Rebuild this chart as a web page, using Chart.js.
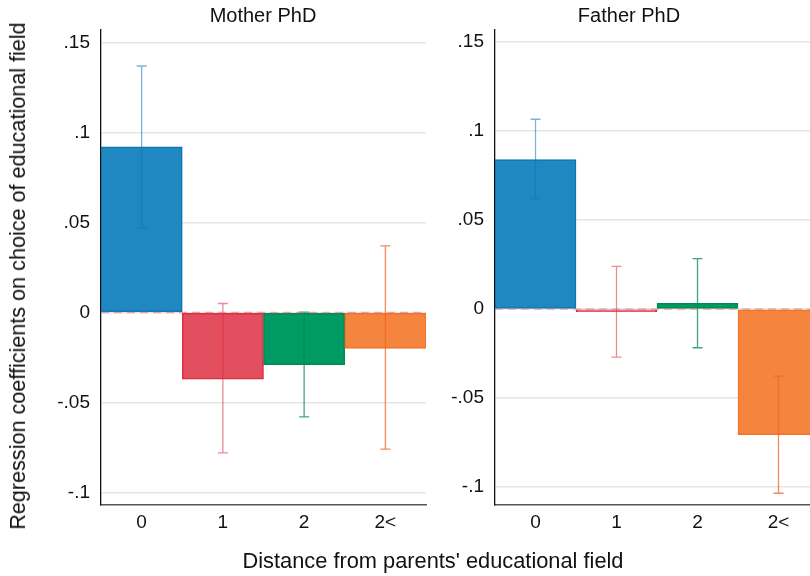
<!DOCTYPE html>
<html>
<head>
<meta charset="utf-8">
<script src="https://cdn.jsdelivr.net/npm/chart.js@4.4.0/dist/chart.umd.min.js"></script>
<style>
  html, body { margin:0; padding:0; width:810px; height:576px; overflow:hidden; background:#fff; }
  body { position:relative; font-family: "Liberation Sans", Arial, sans-serif; color:#111; }
  canvas { position:absolute; top:0; }
  .txt { position:absolute; white-space:nowrap; font-family:"Liberation Sans", Arial, sans-serif; color:#111; }
</style>
</head>
<body>
<canvas id="c1" width="440" height="576" style="left:0px"></canvas>
<canvas id="c2" width="400" height="576" style="left:440px"></canvas>
<div class="txt" id="t1" style="font-size:20px; left:263px; top:4px; transform:translateX(-50%);">Mother PhD</div>
<div class="txt" id="t2" style="font-size:20px; left:629px; top:4px; transform:translateX(-50%);">Father PhD</div>
<div class="txt" id="xt" style="font-size:21.8px; left:433px; top:548px; transform:translateX(-50%);">Distance from parents' educational field</div>
<div class="txt" id="yt" style="font-size:21.6px; left:18px; top:276px; transform:translate(-50%,-50%) rotate(-90deg);">Regression coefficients on choice of educational field</div>
<script>
// ---- data ----
const categories = ["0", "1", "2", "2<"];
const motherCoef = [0.092, -0.037, -0.029, -0.020];
const motherLo   = [0.047, -0.078, -0.058, -0.076];
const motherHi   = [0.137,  0.005,  0.0002,  0.037];
const fatherCoef = [0.084, -0.0015, 0.0033, -0.0705];
const fatherLo   = [0.062, -0.027, -0.0217, -0.1034];
const fatherHi   = [0.1066, 0.024,  0.0283, -0.0376];
const yTickValues = [-0.1, -0.05, 0, 0.05, 0.1, 0.15];
const yTickLabels = ["-.1", "-.05", "0", ".05", ".1", ".15"];

const fills   = ["#1f88c1", "#e34f5f", "#009b65", "#f5843f"];
const borders = ["#0c74b5", "#dc2c40", "#008a50", "#f27227"];
const errCols = ["rgba(12,116,181,0.55)", "rgba(220,44,64,0.55)", "rgba(0,138,80,0.75)", "rgba(242,100,30,0.75)"];

function errorPlugin(lo, hi) {
  return {
    id: 'errbars',
    afterDatasetsDraw(chart) {
      const ctx = chart.ctx, xs = chart.scales.x, ys = chart.scales.y, ca = chart.chartArea;
      ctx.save();
      ctx.beginPath();
      ctx.rect(ca.left, ca.top, ca.right - ca.left, ca.bottom - ca.top);
      ctx.clip();
      for (let i = 0; i < lo.length; i++) {
        const x = xs.getPixelForValue(i);
        const yl = ys.getPixelForValue(lo[i]), yh = ys.getPixelForValue(hi[i]);
        ctx.strokeStyle = errCols[i];
        ctx.lineWidth = 1.3;
        ctx.beginPath();
        ctx.moveTo(x, yl); ctx.lineTo(x, yh);
        ctx.moveTo(x - 5, yl); ctx.lineTo(x + 5, yl);
        ctx.moveTo(x - 5, yh); ctx.lineTo(x + 5, yh);
        ctx.stroke();
      }
      // zero dashed line
      const y0 = ys.getPixelForValue(0);
      ctx.setLineDash([8, 5]);
      ctx.strokeStyle = "rgba(230,110,125,0.6)";
      ctx.lineWidth = 1.3;
      ctx.beginPath(); ctx.moveTo(ca.left, y0); ctx.lineTo(ca.right, y0); ctx.stroke();
      ctx.setLineDash([]);
      ctx.restore();
    }
  };
}

function makeChart(id, coef, lo, hi, ymin, ymax, yWidth, padRight) {
  return new Chart(document.getElementById(id), {
    type: 'bar',
    data: {
      labels: categories,
      datasets: [{
        data: coef,
        backgroundColor: fills,
        borderColor: borders,
        borderWidth: 1.5,
        borderSkipped: false,
        barPercentage: 1.0,
        categoryPercentage: 1.0
      }]
    },
    options: {
      responsive: false,
      animation: false,
      devicePixelRatio: 1,
      layout: { padding: { top: 30, right: padRight, bottom: 31, left: 0 } },
      plugins: { legend: { display: false }, tooltip: { enabled: false }, title: { display: false } },
      scales: {
        x: {
          grid: { display: false, drawTicks: false },
          border: { display: true, color: '#555', width: 1.5 },
          ticks: { color: '#111', font: { family: 'Liberation Sans', size: 19 }, padding: 6, maxRotation: 0 },
          afterFit(s) { s.height = 40; }
        },
        y: {
          min: ymin, max: ymax,
          grid: { color: '#e6e6e6', lineWidth: 1.5, drawTicks: false },
          border: { display: true, color: '#111', width: 1.3 },
          ticks: {
            color: '#111', font: { family: 'Liberation Sans', size: 19 }, padding: 11,
            callback: (v) => { const k = yTickValues.findIndex(t => Math.abs(t - v) < 1e-9); return k >= 0 ? yTickLabels[k] : ''; }
          },
          afterBuildTicks(s) { s.ticks = yTickValues.map(v => ({ value: v })); },
          afterFit(s) { s.width = yWidth; }
        }
      }
    },
    plugins: [errorPlugin(lo, hi)]
  });
}

makeChart('c1', motherCoef, motherLo, motherHi, -0.107, 0.157, 101, 14);
makeChart('c2', fatherCoef, fatherLo, fatherHi, -0.110, 0.1567, 55, 21);
</script>
</body>
</html>
